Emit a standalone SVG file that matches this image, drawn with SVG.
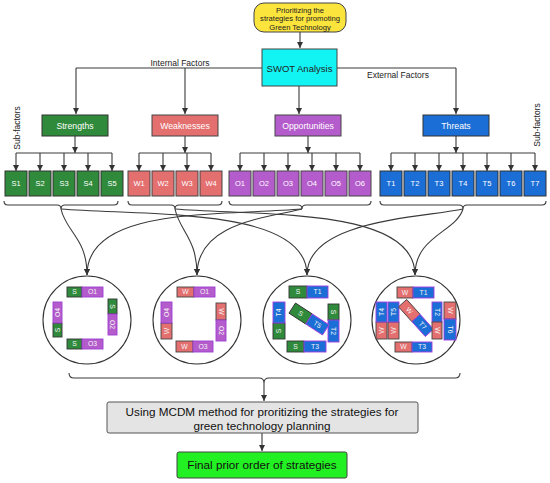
<svg xmlns="http://www.w3.org/2000/svg" width="550" height="483" viewBox="0 0 550 483">
<defs>
<marker id="ah" viewBox="0 0 10 10" refX="10" refY="5" markerWidth="6" markerHeight="6" markerUnits="userSpaceOnUse" orient="auto"><path d="M0,0 L10,5 L0,10 z" fill="#333"/></marker>
</defs>
<style>
text{font-family:"Liberation Sans",Arial,sans-serif;}
.ln{fill:none;stroke:#3a3a3a;stroke-width:1.1;}
.ar{fill:none;stroke:#3a3a3a;stroke-width:1.1;marker-end:url(#ah);}
.sg{fill:#2f8a3b;stroke:#333;stroke-width:1;}
.wr{fill:#e46f6f;stroke:#444;stroke-width:1;}
.op{fill:#b55ccc;stroke:#444;stroke-width:1;}
.th{fill:#1b6ed6;stroke:#333;stroke-width:1;}
.ms{fill:#2f8a3b;stroke:#333;stroke-width:0.9;}
.mw{fill:#e46f6f;stroke:#444;stroke-width:0.9;}
.mo{fill:#b55ccc;stroke:#9b3fd0;stroke-width:0.9;}
.mt{fill:#1b6ed6;stroke:#a43ce0;stroke-width:0.9;}
.wt{fill:#fff;font-size:7.5px;text-anchor:middle;}
.mt6{fill:#f4f4f4;font-size:6.8px;text-anchor:middle;}
.fl{fill:#fff;font-size:8.7px;text-anchor:middle;}
.lb{fill:#222;font-size:8.5px;text-anchor:middle;}
.big{fill:#111;font-size:11.7px;text-anchor:middle;}
.circ{fill:#fff;stroke:#333;stroke-width:1.1;}
</style>

<g id="connectors">
<path class="ar" d="M300,32 V48"/>
<path class="ln" d="M262,68 H76"/>
<path class="ar" d="M76,68 V114"/>
<path class="ar" d="M185,68 V114"/>
<path class="ln" d="M337,68 H456"/>
<path class="ar" d="M456,68 V114"/>
<path class="ar" d="M299,86 V114"/>
<path class="ar" d="M75,136 V153"/>
<path class="ar" d="M185,136 V153"/>
<path class="ar" d="M308,136 V153"/>
<path class="ar" d="M456,136 V153"/>
<path class="ln" d="M16,153 H112"/>
<path class="ln" d="M139,153 H211"/>
<path class="ln" d="M240,153 H360"/>
<path class="ln" d="M391,153 H535"/>
<g>
<path class="ar" d="M16,153 V171"/><path class="ar" d="M40,153 V171"/><path class="ar" d="M64,153 V171"/><path class="ar" d="M88,153 V171"/><path class="ar" d="M112,153 V171"/>
<path class="ar" d="M139,153 V171"/><path class="ar" d="M163,153 V171"/><path class="ar" d="M187,153 V171"/><path class="ar" d="M211,153 V171"/>
<path class="ar" d="M240,153 V171"/><path class="ar" d="M264,153 V171"/><path class="ar" d="M288,153 V171"/><path class="ar" d="M312,153 V171"/><path class="ar" d="M336,153 V171"/><path class="ar" d="M360,153 V171"/>
<path class="ar" d="M391,153 V171"/><path class="ar" d="M415,153 V171"/><path class="ar" d="M439,153 V171"/><path class="ar" d="M463,153 V171"/><path class="ar" d="M487,153 V171"/><path class="ar" d="M511,153 V171"/><path class="ar" d="M535,153 V171"/>
</g>
<path class="ln" d="M4,201 Q4,205 8,205 H57 Q61,205 61,209 Q61,205 65,205 H114 Q118,205 118,201"/>
<path class="ln" d="M128,201 Q128,205 132,205 H171 Q175,205 175,209 Q175,205 179,205 H218 Q222,205 222,201"/>
<path class="ln" d="M229,201 Q229,205 233,205 H298 Q302,205 302,209 Q302,205 306,205 H367 Q371,205 371,201"/>
<path class="ln" d="M380,201 Q380,205 384,205 H459 Q463,205 463,209 Q463,205 467,205 H542 Q546,205 546,201"/>
<path class="ar" d="M61,209 C66,232 87,238 87,275"/>
<path class="ar" d="M61,209 C150,216 307,207 307,275"/>
<path class="ar" d="M175,209 C180,232 197,238 197,275"/>
<path class="ar" d="M175,209 C262,216 415,207 415,275"/>
<path class="ar" d="M302,209 C215,216 87,207 87,275"/>
<path class="ar" d="M302,209 C268,218 197,222 197,275"/>
<path class="ar" d="M463,209 C420,218 307,220 307,275"/>
<path class="ar" d="M463,209 C456,232 415,236 415,275"/>
<path class="ln" d="M69,373 Q69,378 74,378 H259 Q264,378 264,383 Q264,378 269,378 H455 Q460,378 460,373"/>
<path class="ar" d="M264,383 V401"/>
<path class="ar" d="M262,433 V451"/>
</g>

<g id="n-goal">
<rect x="254" y="3" width="92" height="29" rx="10" fill="#fbe43c" stroke="#444" stroke-width="1"/>
<text class="lb" x="300" y="12.5" style="font-size:7.6px">Prioritizing the</text>
<text class="lb" x="300" y="21" style="font-size:7.6px">strategies for promoting</text>
<text class="lb" x="300" y="29.5" style="font-size:7.6px">Green Technology</text>
</g>
<g id="n-swot">
<rect x="262" y="49" width="75" height="37" fill="#12f4f4" stroke="#444" stroke-width="1"/>
<text class="lb" x="299.5" y="71.5" style="font-size:9.5px">SWOT Analysis</text>
</g>
<text class="lb" x="180" y="65.5">Internal Factors</text>
<text class="lb" x="398" y="78">External Factors</text>
<text class="lb" transform="translate(20,128) rotate(-90)">Sub-factors</text>
<text class="lb" transform="translate(540,125) rotate(-90)">Sub-factors</text>

<g id="n-strengths"><rect class="sg" x="42" y="115" width="66" height="21"/><text class="fl" x="75" y="128.5">Strengths</text></g>
<g id="n-weaknesses"><rect class="wr" x="152" y="115" width="66" height="21"/><text class="fl" x="185" y="128.5">Weaknesses</text></g>
<g id="n-opportunities"><rect class="op" x="275" y="115" width="66" height="21"/><text class="fl" x="308" y="128.5">Opportunities</text></g>
<g id="n-threats"><rect class="th" x="423" y="115" width="66" height="21"/><text class="fl" x="456" y="128.5">Threats</text></g>

<g id="n-subfactors">
<g id="n-s1"><rect class="sg" x="5" y="171" width="22" height="25"/><text class="wt" x="16" y="186">S1</text></g>
<g id="n-s2"><rect class="sg" x="29" y="171" width="22" height="25"/><text class="wt" x="40" y="186">S2</text></g>
<g id="n-s3"><rect class="sg" x="53" y="171" width="22" height="25"/><text class="wt" x="64" y="186">S3</text></g>
<g id="n-s4"><rect class="sg" x="77" y="171" width="22" height="25"/><text class="wt" x="88" y="186">S4</text></g>
<g id="n-s5"><rect class="sg" x="101" y="171" width="22" height="25"/><text class="wt" x="112" y="186">S5</text></g>
<g id="n-w1"><rect class="wr" x="128" y="171" width="22" height="25"/><text class="wt" x="139" y="186">W1</text></g>
<g id="n-w2"><rect class="wr" x="152" y="171" width="22" height="25"/><text class="wt" x="163" y="186">W2</text></g>
<g id="n-w3"><rect class="wr" x="176" y="171" width="22" height="25"/><text class="wt" x="187" y="186">W3</text></g>
<g id="n-w4"><rect class="wr" x="200" y="171" width="22" height="25"/><text class="wt" x="211" y="186">W4</text></g>
<g id="n-o1"><rect class="op" x="229" y="171" width="22" height="25"/><text class="wt" x="240" y="186">O1</text></g>
<g id="n-o2"><rect class="op" x="253" y="171" width="22" height="25"/><text class="wt" x="264" y="186">O2</text></g>
<g id="n-o3"><rect class="op" x="277" y="171" width="22" height="25"/><text class="wt" x="288" y="186">O3</text></g>
<g id="n-o4"><rect class="op" x="301" y="171" width="22" height="25"/><text class="wt" x="312" y="186">O4</text></g>
<g id="n-o5"><rect class="op" x="325" y="171" width="22" height="25"/><text class="wt" x="336" y="186">O5</text></g>
<g id="n-o6"><rect class="op" x="349" y="171" width="22" height="25"/><text class="wt" x="360" y="186">O6</text></g>
<g id="n-t1"><rect class="th" x="380" y="171" width="22" height="25"/><text class="wt" x="391" y="186">T1</text></g>
<g id="n-t2"><rect class="th" x="404" y="171" width="22" height="25"/><text class="wt" x="415" y="186">T2</text></g>
<g id="n-t3"><rect class="th" x="428" y="171" width="22" height="25"/><text class="wt" x="439" y="186">T3</text></g>
<g id="n-t4"><rect class="th" x="452" y="171" width="22" height="25"/><text class="wt" x="463" y="186">T4</text></g>
<g id="n-t5"><rect class="th" x="476" y="171" width="22" height="25"/><text class="wt" x="487" y="186">T5</text></g>
<g id="n-t6"><rect class="th" x="500" y="171" width="22" height="25"/><text class="wt" x="511" y="186">T6</text></g>
<g id="n-t7"><rect class="th" x="524" y="171" width="22" height="25"/><text class="wt" x="535" y="186">T7</text></g>
</g>

<g id="n-so">
<circle class="circ" cx="87" cy="320" r="44"/>
<g transform="translate(82,292)"><rect class="ms" x="-15" y="-5" width="15" height="10"/><rect class="mo" x="0" y="-5" width="21" height="10"/><text class="mt6" x="-7.5" y="2.4">S</text><text class="mt6" x="10.5" y="2.4">O1</text></g>
<g transform="translate(112.5,314) rotate(90)"><rect class="ms" x="-15" y="-4.5" width="15" height="9"/><rect class="mo" x="0" y="-4.5" width="21" height="9"/><text class="mt6" x="-7.5" y="2.4">S</text><text class="mt6" x="10.5" y="2.4">O2</text></g>
<g transform="translate(57.5,323) rotate(-90)"><rect class="ms" x="-14" y="-4.5" width="14" height="9"/><rect class="mo" x="0" y="-4.5" width="21" height="9"/><text class="mt6" x="-7" y="2.4">S</text><text class="mt6" x="10.5" y="2.4">O4</text></g>
<g transform="translate(82,344)"><rect class="ms" x="-15" y="-5" width="15" height="10"/><rect class="mo" x="0" y="-5" width="21" height="10"/><text class="mt6" x="-7.5" y="2.4">S</text><text class="mt6" x="10.5" y="2.4">O3</text></g>
</g>

<g id="n-wo">
<circle class="circ" cx="197" cy="320" r="44"/>
<g transform="translate(194,292)"><rect class="mw" x="-17" y="-5" width="17" height="10"/><rect class="mo" x="0" y="-5" width="21" height="10"/><text class="mt6" x="-8.5" y="2.4">W</text><text class="mt6" x="10.5" y="2.4">O1</text></g>
<g transform="translate(221,320) rotate(90)"><rect class="mw" x="-17" y="-5" width="17" height="10"/><rect class="mo" x="0" y="-5" width="21" height="10"/><text class="mt6" x="-8.5" y="2.4">W</text><text class="mt6" x="10.5" y="2.4">O2</text></g>
<g transform="translate(166.5,323) rotate(-90)"><rect class="mw" x="-16" y="-5.5" width="16" height="11"/><rect class="mo" x="0" y="-5.5" width="21" height="11"/><text class="mt6" x="-8" y="2.4">W</text><text class="mt6" x="10.5" y="2.4">O4</text></g>
<g transform="translate(193,346.5)"><rect class="mw" x="-17" y="-5.5" width="17" height="11"/><rect class="mo" x="0" y="-5.5" width="20" height="11"/><text class="mt6" x="-8.5" y="2.4">W</text><text class="mt6" x="10" y="2.4">O3</text></g>
</g>

<g id="n-st">
<circle class="circ" cx="307" cy="320" r="44"/>
<g transform="translate(307,292)"><rect class="ms" x="-18" y="-6" width="18" height="12"/><rect class="mt" x="0" y="-6" width="21" height="12"/><text class="mt6" x="-9" y="2.4">S</text><text class="mt6" x="10.5" y="2.4">T1</text></g>
<g transform="translate(279,323) rotate(-90)"><rect class="ms" x="-16" y="-6" width="16" height="12"/><rect class="mt" x="0" y="-6" width="21" height="12"/><text class="mt6" x="-8" y="2.4">S</text><text class="mt6" x="10.5" y="2.4">T4</text></g>
<g transform="translate(333.5,320) rotate(90)"><rect class="ms" x="-16" y="-5.5" width="16" height="11"/><rect class="mt" x="0" y="-5.5" width="22" height="11"/><text class="mt6" x="-8" y="2.4">S</text><text class="mt6" x="11" y="2.4">T2</text></g>
<g transform="translate(304,346.5)"><rect class="ms" x="-17" y="-5.5" width="17" height="11"/><rect class="mt" x="0" y="-5.5" width="22" height="11"/><text class="mt6" x="-8.5" y="2.4">S</text><text class="mt6" x="11" y="2.4">T3</text></g>
<g transform="translate(309,319) rotate(33)"><rect class="ms" x="-20" y="-6" width="20" height="12"/><rect class="mt" x="0" y="-6" width="20" height="12"/><text class="mt6" x="-10" y="2.4">S</text><text class="mt6" x="10" y="2.4">T5</text></g>
</g>

<g id="n-wt">
<circle class="circ" cx="416" cy="320" r="44"/>
<g transform="translate(413,292.5)"><rect class="mw" x="-16" y="-5.5" width="16" height="11"/><rect class="mt" x="0" y="-5.5" width="21" height="11"/><text class="mt6" x="-8" y="2.4">W</text><text class="mt6" x="10.5" y="2.4">T1</text></g>
<g transform="translate(381.5,322) rotate(-90)"><rect class="mw" x="-17" y="-5.5" width="17" height="11"/><rect class="mt" x="0" y="-5.5" width="20" height="11"/><text class="mt6" x="-8.5" y="2.4">W</text><text class="mt6" x="10" y="2.4">T4</text></g>
<g transform="translate(393.5,322) rotate(-90)"><rect class="mw" x="-17" y="-5.5" width="17" height="11"/><rect class="mt" x="0" y="-5.5" width="20" height="11"/><text class="mt6" x="-8.5" y="2.4">W</text><text class="mt6" x="10" y="2.4">T5</text></g>
<g transform="translate(416,318) rotate(48)"><rect class="mw" x="-20" y="-5.5" width="20" height="11"/><rect class="mt" x="0" y="-5.5" width="20" height="11"/><text class="mt6" x="-10" y="2.4">W</text><text class="mt6" x="10" y="2.4">T7</text></g>
<g transform="translate(437,322) rotate(90)"><rect class="mt" x="-20" y="-5" width="20" height="10"/><rect class="mw" x="0" y="-5" width="17" height="10"/><text class="mt6" x="-10" y="2.4">T2</text><text class="mt6" x="8.5" y="2.4">W</text></g>
<g transform="translate(450,319) rotate(90)"><rect class="mw" x="-17" y="-6" width="17" height="12"/><rect class="mt" x="0" y="-6" width="21" height="12"/><text class="mt6" x="-8.5" y="2.4">W</text><text class="mt6" x="10.5" y="2.4">T6</text></g>
<g transform="translate(412,347)"><rect class="mw" x="-17" y="-5" width="17" height="10"/><rect class="mt" x="0" y="-5" width="20" height="10"/><text class="mt6" x="-8.5" y="2.4">W</text><text class="mt6" x="10" y="2.4">T3</text></g>
</g>

<g id="n-mcdm">
<rect x="107" y="402" width="311" height="31" rx="2" fill="#e4e4e4" stroke="#555" stroke-width="1"/>
<text class="big" x="262" y="416">Using MCDM method for proritizing the strategies for</text>
<text class="big" x="262" y="429.5">green technology planning</text>
</g>
<g id="n-final">
<rect x="177" y="452" width="170" height="26" rx="2" fill="#22f022" stroke="#444" stroke-width="1"/>
<text class="big" x="262" y="469">Final prior order of strategies</text>
</g>
</svg>
